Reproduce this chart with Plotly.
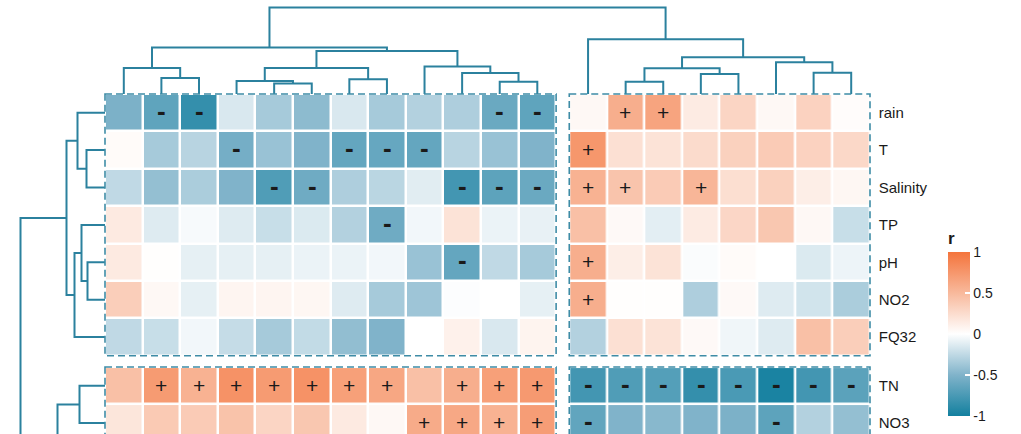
import plotly.graph_objects as go

# ------------------------------------------------------------------ data
row_names = ["rain", "T", "Salinity", "TP", "pH", "NO2", "FQ32", "TN", "NO3"]
n_top_rows = 7      # rows in the upper row cluster
n_left_cols = 12    # columns in the left column cluster

# correlation r, 20 columns each (12 left cluster + 8 right cluster)
rain     = [-0.52, -0.65, -0.85, -0.15, -0.35, -0.45, -0.15, -0.35, -0.30, -0.32, -0.60, -0.65,
             0.05,  0.58,  0.65,  0.14,  0.30,  0.05,  0.32,  0.02]
T        = [ 0.03, -0.35, -0.28, -0.55, -0.40, -0.50, -0.63, -0.62, -0.63, -0.28, -0.40, -0.50,
             0.75,  0.22,  0.20,  0.26,  0.33,  0.37,  0.32,  0.28]
Salinity = [-0.25, -0.42, -0.33, -0.50, -0.72, -0.58, -0.32, -0.27, -0.12, -0.78, -0.66, -0.60,
             0.55,  0.42,  0.37,  0.52,  0.23,  0.33,  0.12,  0.06]
TP       = [ 0.15, -0.13, -0.03, -0.13, -0.22, -0.14, -0.30, -0.58, -0.05,  0.20, -0.08, -0.09,
             0.45,  0.04, -0.11,  0.14,  0.29,  0.40,  0.05, -0.22]
pH       = [ 0.15,  0.01, -0.10, -0.10, -0.10, -0.08, -0.08, -0.05, -0.40, -0.63, -0.25, -0.35,
             0.58,  0.12,  0.20, -0.02,  0.03,  0.00, -0.14, -0.07]
NO2      = [ 0.35,  0.05, -0.10,  0.07,  0.07,  0.06, -0.13, -0.35, -0.38, -0.01,  0.00, -0.10,
             0.58,  0.01,  0.01, -0.32,  0.04, -0.13, -0.18, -0.33]
FQ32     = [-0.25, -0.22, -0.05, -0.23, -0.35, -0.24, -0.43, -0.50,  0.00,  0.10, -0.15,  0.08,
            -0.30,  0.22,  0.20,  0.04, -0.06, -0.13,  0.45,  0.35]
TN       = [ 0.45,  0.72,  0.55,  0.78,  0.72,  0.78,  0.68,  0.63,  0.45,  0.58,  0.68,  0.73,
            -0.78, -0.72, -0.70, -0.85, -0.75, -0.97, -0.78, -0.67]
NO3      = [ 0.18,  0.38,  0.37,  0.43,  0.30,  0.40,  0.15,  0.05,  0.60,  0.62,  0.55,  0.70,
            -0.64, -0.50, -0.47, -0.50, -0.52, -0.66, -0.30, -0.42]

# significance marks ('.' = none)
sig_rain     = ".--.......--" + ".++....."
sig_T        = "...-..---..." + "+......."
sig_Salinity = "....--...---" + "++.+...."
sig_TP       = ".......-...." + "........"
sig_pH       = ".........-.." + "+......."
sig_NO2      = "............" + "+......."
sig_FQ32     = "............" + "........"
sig_TN       = ".+++++++.+++" + "--------"
sig_NO3      = "........++++" + "-....-.."

# column dendrogram: [child_a, child_b, height]; ids >= 20 are earlier merges
col_merges = [
    [4, 5, 1.06], [10, 11, 1.23], [13, 14, 1.23], [3, 20, 1.30], [6, 7, 1.47],
    [1, 2, 1.60], [15, 16, 2.00], [9, 21, 2.10], [18, 19, 2.13], [22, 26, 2.57],
    [0, 25, 2.60], [23, 24, 2.60], [8, 27, 2.74], [17, 28, 3.17], [29, 33, 3.67],
    [31, 32, 4.30], [30, 35, 4.64], [12, 34, 5.47], [36, 37, 8.65],
]
# row dendrogram: leaves 0..8 = row_names, leaf 9 = rows below the visible crop
row_merges = [
    [4, 5, 1.75], [1, 2, 1.85], [3, 10, 2.35], [7, 8, 2.55], [0, 11, 2.75],
    [12, 6, 3.05], [14, 15, 3.85], [13, 9, 4.75], [16, 17, 8.45],
]

# ------------------------------------------------------------------ helpers
rows = [rain, T, Salinity, TP, pH, NO2, FQ32, TN, NO3]
sigs = [sig_rain, sig_T, sig_Salinity, sig_TP, sig_pH, sig_NO2, sig_FQ32, sig_TN, sig_NO3]
n_cols = len(rain)
col_gap, row_gap = 0.35, 0.30
col_pos = [i if i < n_left_cols else i + col_gap for i in range(n_cols)]
row_pos = [i if i < n_top_rows else i + row_gap for i in range(len(row_names))]
leaf_pos_rows = row_pos + [row_pos[-1] + 2]   # subtree continuing below the crop

sign_txt = {".": "", "+": "+", "-": "<b><span style='font-size:26px'>-</span></b>"}

colorscale = [[0.0, "#13809F"], [0.25, "#80B3CA"], [0.5, "#FFFFFF"],
              [0.75, "#F8B99C"], [1.0, "#F4743C"]]

def dendro(leaf_pos, merges):
    pos = list(leaf_pos)
    hgt = [0.0] * len(leaf_pos)
    p, h = [], []
    for a, b, hh in merges:
        p += [pos[a], pos[a], pos[b], pos[b], None]
        h += [hgt[a], hh, hh, hgt[b], None]
        pos.append((pos[a] + pos[b]) / 2)
        hgt.append(hh)
    return p, h

fig = go.Figure()

blocks_r = [range(0, n_top_rows), range(n_top_rows, len(row_names))]
blocks_c = [range(0, n_left_cols), range(n_left_cols, n_cols)]
first = True
for br in blocks_r:
    for bc in blocks_c:
        z = [[rows[r][c] for c in bc] for r in br]
        t = [[sign_txt[sigs[r][c]] for c in bc] for r in br]
        fig.add_trace(go.Heatmap(
            x=[col_pos[c] for c in bc], y=[row_pos[r] for r in br], z=z,
            text=t, texttemplate="%{text}",
            textfont=dict(size=21, color="#1a1a1a", family="Arial, Liberation Sans"),
            colorscale=colorscale, zmin=-1, zmax=1, xgap=2.5, ygap=2.5,
            showscale=first, hoverinfo="skip",
            colorbar=dict(
                x=948 / 1021, xanchor="left", xpad=0, ypad=0,
                y=(434 - 322) / 434, yanchor="middle",
                thickness=22, len=188, lenmode="pixels", outlinewidth=0,
                tickvals=[-1, -0.5, 0, 0.5, 1], ticktext=["-1", "-0.5", "0", "0.5", "1"],
                ticks="inside", ticklen=5, tickcolor="white", tickwidth=1.5,
                tickfont=dict(size=14, color="#1a1a1a"),
                title=dict(text="<b>r</b>", side="top", font=dict(size=17, color="#1a1a1a")),
            ),
        ))
        first = False
        # dashed frame around the block
        fig.add_shape(type="rect", xref="x", yref="y",
                      x0=col_pos[bc[0]] - 0.5, x1=col_pos[bc[-1]] + 0.5,
                      y0=row_pos[br[0]] - 0.5, y1=row_pos[br[-1]] + 0.5,
                      line=dict(color="#3E8CA6", width=1.6, dash="7px,4px"),
                      fillcolor="rgba(0,0,0,0)", layer="above")

line_style = dict(color="#2B819E", width=2)
cx, cy = dendro(col_pos, col_merges)
fig.add_trace(go.Scatter(x=cx, y=cy, mode="lines", line=line_style,
                         xaxis="x2", yaxis="y2", hoverinfo="skip"))
ry, rx = dendro(leaf_pos_rows, row_merges)
fig.add_trace(go.Scatter(x=rx, y=ry, mode="lines", line=line_style,
                         xaxis="x3", yaxis="y", hoverinfo="skip"))

xdom = [101.24 / 1021, 873.76 / 1021]
fig.update_layout(
    width=1021, height=434, margin=dict(l=0, r=0, t=0, b=0),
    paper_bgcolor="white", plot_bgcolor="white", showlegend=False,
    font=dict(family="Arial, Liberation Sans, sans-serif", color="#1a1a1a"),
    xaxis=dict(domain=xdom, range=[-0.6, 19.95], visible=False, anchor="y"),
    yaxis=dict(domain=[0, 344 / 434], range=[8.591, -0.607], anchor="x",
               side="right", tickvals=row_pos, ticktext=row_names,
               showgrid=False, zeroline=False, showline=False, ticks="",
               ticklabelstandoff=4, tickfont=dict(size=15, color="#1a1a1a")),
    xaxis2=dict(domain=xdom, range=[-0.6, 19.95], visible=False, anchor="y2"),
    yaxis2=dict(domain=[340 / 434, 1], range=[0, 9.4], visible=False, anchor="x2"),
    xaxis3=dict(domain=[0, 105 / 1021], range=[10.5, 0], visible=False, anchor="y"),
)

fig.write_html("out.html")
